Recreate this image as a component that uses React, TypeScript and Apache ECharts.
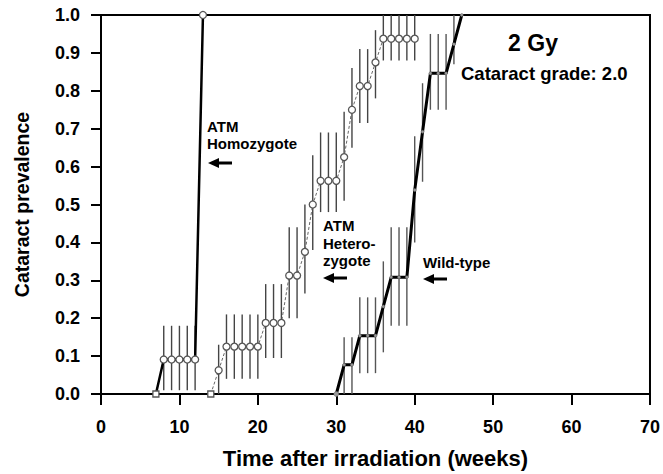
import React, { useEffect, useRef } from "react";
import * as echarts from "echarts";

// ---- data ----
const xTicks = [0, 10, 20, 30, 40, 50, 60, 70];
const yTicks = [0, 0.1, 0.2, 0.3, 0.4, 0.5, 0.6, 0.7, 0.8, 0.9, 1.0];

const homoWeeks = [7, 8, 9, 10, 11, 12, 13];
const homoPrev = [0, 0.091, 0.091, 0.091, 0.091, 0.091, 1.0];
const homoLow = [null, 0.01, 0.01, 0.01, 0.01, 0.01, null];
const homoHigh = [null, 0.18, 0.18, 0.18, 0.18, 0.18, null];

const hetWeeks = [14, 15, 16, 17, 18, 19, 20, 21, 22, 23, 24, 25, 26, 27, 28, 29, 30, 31, 32, 33, 34, 35, 36, 37, 38, 39, 40];
const hetPrev = [0, 0.0625, 0.125, 0.125, 0.125, 0.125, 0.125, 0.1875, 0.1875, 0.1875, 0.3125, 0.3125, 0.375, 0.5, 0.5625, 0.5625, 0.5625, 0.625, 0.75, 0.8125, 0.8125, 0.875, 0.9375, 0.9375, 0.9375, 0.9375, 0.9375];
const hetLow = [null, 0.0, 0.04, 0.04, 0.04, 0.04, 0.04, 0.095, 0.095, 0.095, 0.2, 0.2, 0.265, 0.38, 0.48, 0.48, 0.48, 0.51, 0.65, 0.715, 0.715, 0.78, 0.88, 0.88, 0.88, 0.88, 0.88];
const hetHigh = [null, 0.13, 0.21, 0.21, 0.21, 0.21, 0.21, 0.29, 0.29, 0.29, 0.44, 0.44, 0.5, 0.63, 0.69, 0.69, 0.69, 0.745, 0.86, 0.91, 0.91, 0.96, 1.0, 1.0, 1.0, 1.0, 1.0];

const wtWeeks = [30, 31, 32, 33, 34, 35, 36, 37, 38, 39, 40, 41, 42, 43, 44, 45, 46];
const wtPrev = [0, 0.077, 0.077, 0.154, 0.154, 0.154, 0.231, 0.308, 0.308, 0.308, 0.538, 0.692, 0.846, 0.846, 0.846, 0.923, 1.0];
const wtLow = [null, 0.0, 0.0, 0.055, 0.055, 0.055, 0.11, 0.18, 0.18, 0.18, 0.4, 0.56, 0.75, 0.75, 0.75, 0.87, null];
const wtHigh = [null, 0.15, 0.15, 0.255, 0.255, 0.255, 0.35, 0.44, 0.44, 0.44, 0.68, 0.82, 0.95, 0.95, 0.95, 1.0, null];

const FONT = "'Liberation Sans', Arial, sans-serif";

function pts(weeks: number[], prev: number[], firstSymbol: string, firstSize: number) {
  return weeks.map((w, i) =>
    i === 0 ? { value: [w, prev[i]], symbol: firstSymbol, symbolSize: firstSize } : { value: [w, prev[i]] }
  );
}

function bars(weeks: number[], lo: (number | null)[], hi: (number | null)[]) {
  const out: number[][] = [];
  weeks.forEach((w, i) => {
    if (lo[i] != null && hi[i] != null) out.push([w, lo[i] as number, hi[i] as number]);
  });
  return out;
}

function errorSeries(data: number[][], color: string, width: number) {
  return {
    type: "custom",
    z: 1,
    silent: true,
    data,
    encode: { x: 0, y: [1, 2] },
    renderItem: (_p: any, api: any) => {
      const x = api.value(0);
      const a = api.coord([x, api.value(1)]);
      const b = api.coord([x, api.value(2)]);
      return {
        type: "line",
        shape: { x1: a[0], y1: a[1], x2: b[0], y2: b[1] },
        style: { stroke: color, lineWidth: width },
      };
    },
  };
}

function arrow(x: number, y: number) {
  return [
    { type: "polygon", shape: { points: [[x, y], [x + 11, y - 5], [x + 11, y + 5]] }, style: { fill: "#000" } },
    { type: "rect", shape: { x: x + 10, y: y - 1.5, width: 14, height: 3 }, style: { fill: "#000" } },
  ];
}

function label(text: string, x: number, y: number, size: number, align = "left") {
  return {
    type: "text",
    x,
    y,
    style: { text, fill: "#000", font: `bold ${size}px ${FONT}`, align, verticalAlign: "middle" },
  };
}

export default function App() {
  const ref = useRef<HTMLDivElement>(null);
  useEffect(() => {
    if (!ref.current) return;
    const chart = echarts.init(ref.current, null, { renderer: "svg" });
    const axisLbl = { color: "#000", fontWeight: "bold", fontSize: 18, fontFamily: FONT };
    const option: any = {
      animation: false,
      backgroundColor: "#fff",
      textStyle: { fontFamily: FONT },
      grid: { left: 101, right: 12, top: 15, bottom: 78, show: true, borderColor: "#000", borderWidth: 2, backgroundColor: "transparent" },
      xAxis: {
        type: "value",
        min: 0,
        max: 70,
        interval: 10,
        name: "Time after irradiation (weeks)",
        nameLocation: "middle",
        nameGap: 53,
        nameTextStyle: { color: "#000", fontWeight: "bold", fontSize: 22, fontFamily: FONT },
        axisLine: { lineStyle: { color: "#000", width: 2 } },
        axisTick: { inside: false, length: 11, lineStyle: { color: "#000", width: 2 } },
        axisLabel: { ...axisLbl, margin: 24, formatter: (v: number) => (xTicks.includes(v) ? String(v) : "") },
        splitLine: { show: false },
      },
      yAxis: {
        type: "value",
        min: 0,
        max: 1,
        interval: 0.1,
        name: "Cataract prevalence",
        nameLocation: "middle",
        nameGap: 69,
        nameTextStyle: { color: "#000", fontWeight: "bold", fontSize: 19.5, fontFamily: FONT },
        axisLine: { lineStyle: { color: "#000", width: 2 } },
        axisTick: { inside: false, length: 10, lineStyle: { color: "#000", width: 2 } },
        axisLabel: {
          ...axisLbl,
          margin: 21,
          padding: [7, 0, 0, 0],
          formatter: (v: number) => {
            const t = yTicks.find((k) => Math.abs(k - v) < 1e-6);
            return t == null ? "" : t.toFixed(1);
          },
        },
        splitLine: { show: false },
      },
      series: [
        errorSeries(bars(homoWeeks, homoLow, homoHigh), "#444", 1.4),
        errorSeries(bars(hetWeeks, hetLow, hetHigh), "#444", 1.4),
        errorSeries(bars(wtWeeks, wtLow, wtHigh), "#555", 1.4),
        {
          name: "ATM Homozygote",
          type: "line",
          z: 3,
          data: pts(homoWeeks, homoPrev, "rect", 6),
          lineStyle: { color: "#000", width: 2.5 },
          symbol: "circle",
          symbolSize: 7,
          showAllSymbol: true,
          itemStyle: { color: "#fff", borderColor: "#555", borderWidth: 1.3 },
        },
        {
          name: "ATM Heterozygote",
          type: "line",
          z: 3,
          data: pts(hetWeeks, hetPrev, "rect", 6),
          lineStyle: { color: "#666", width: 1, type: [3, 2] },
          symbol: "circle",
          symbolSize: 7,
          showAllSymbol: true,
          itemStyle: { color: "#fff", borderColor: "#555", borderWidth: 1.3 },
        },
        {
          name: "Wild-type",
          type: "line",
          z: 3,
          data: pts(wtWeeks, wtPrev, "circle", 5),
          lineStyle: { color: "#000", width: 3 },
          symbol: "circle",
          symbolSize: 3,
          showAllSymbol: true,
          itemStyle: { color: "#999", borderColor: "#666", borderWidth: 0.5 },
        },
      ],
      graphic: [
        label("ATM", 207, 126, 15),
        label("Homozygote", 207, 143, 15),
        ...arrow(208, 163),
        label("ATM", 323, 225, 15),
        label("Hetero-", 323, 243, 15),
        label("zygote", 323, 260, 15),
        ...arrow(323, 278),
        label("Wild-type", 423, 262, 15),
        ...arrow(423, 279),
        label("2 Gy", 533, 43, 23, "center"),
        label("Cataract grade: 2.0", 461, 73, 18.5),
      ],
    };
    chart.setOption(option);
    return () => chart.dispose();
  }, []);
  return <div ref={ref} style={{ position: "fixed", left: 0, top: 0, width: 663, height: 474 }} />;
}
